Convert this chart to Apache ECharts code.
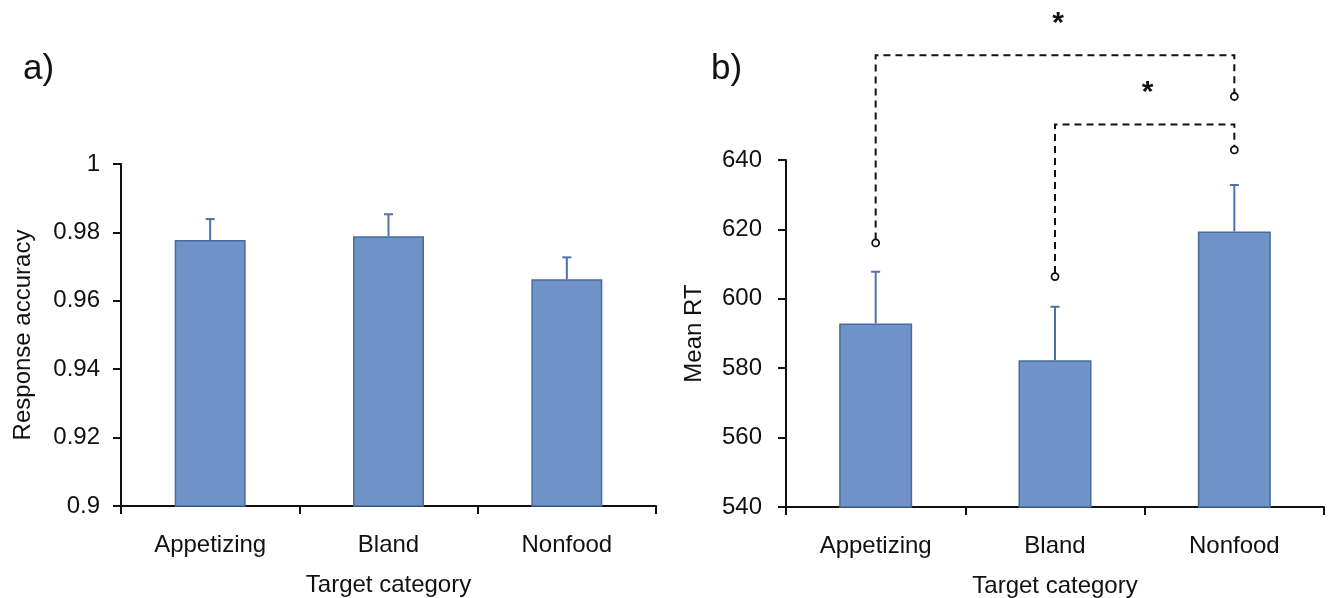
<!DOCTYPE html>
<html>
<head>
<meta charset="utf-8">
<script src="https://cdn.jsdelivr.net/npm/echarts@6/dist/echarts.min.js"></script>
<style>html,body{margin:0;padding:0;background:#fff}#c{width:1330px;height:598px}</style>
</head>
<body>
<div id="c"></div>
<script>
const categories = ['Appetizing', 'Bland', 'Nonfood'];
const accuracyMean = [0.9778, 0.9789, 0.9663];
const accuracyErr = [0.0061, 0.0064, 0.0064];
const rtMean = [592.9, 582.3, 619.4];
const rtErr = [14.9, 15.4, 13.4];
const accTicks = { min: 0.9, max: 1, interval: 0.02 };
const rtTicks = { min: 540, max: 640, interval: 20 };
// significance brackets: from category, to category, bracket height, end heights, star height
const sigFrom = [0, 1];
const sigTo = [2, 2];
const sigLine = [670.2, 650.2];
const sigFromEnd = [616.1, 606.4];
const sigToEnd = [658.3, 642.9];
const sigStar = [680.5, 660.5];
const sigText = ['*', '*'];

const FONT = 'Liberation Sans, Arial, sans-serif';
const barFill = '#7093c7';
const barEdge = '#4a6b9d';
const errColor = '#4f72a6';

function errorSeries(xi, yi, means, errs) {
  return {
    type: 'custom', xAxisIndex: xi, yAxisIndex: yi, clip: false, silent: true, z: 3,
    data: means.map((m, i) => [i, m, m + errs[i]]),
    renderItem: function (params, api) {
      const p0 = api.coord([api.value(0), api.value(1)]);
      const p1 = api.coord([api.value(0), api.value(2)]);
      const st = { stroke: errColor, lineWidth: 2 };
      return { type: 'group', children: [
        { type: 'line', shape: { x1: p0[0], y1: p0[1], x2: p1[0], y2: p1[1] }, style: st },
        { type: 'line', shape: { x1: p1[0] - 4.5, y1: p1[1], x2: p1[0] + 4.5, y2: p1[1] }, style: st }
      ]};
    }
  };
}

function baseX(gi) {
  return {
    type: 'category', gridIndex: gi, data: categories,
    name: 'Target category', nameLocation: 'middle', nameGap: 67,
    nameTextStyle: { fontFamily: FONT, fontSize: 24, color: '#111' },
    axisLine: { lineStyle: { color: '#111', width: 2 } },
    axisTick: { show: true, length: 8, lineStyle: { color: '#111', width: 2 } },
    axisLabel: { fontFamily: FONT, fontSize: 24, color: '#111', margin: 27 },
    splitLine: { show: false }
  };
}
function baseY(gi, t, name, gap, margin) {
  return {
    type: 'value', gridIndex: gi, min: t.min, max: t.max, interval: t.interval,
    name: name, nameLocation: 'middle', nameGap: gap, nameRotate: 90,
    nameTextStyle: { fontFamily: FONT, fontSize: 24, color: '#111' },
    axisLine: { show: true, lineStyle: { color: '#111', width: 2 } },
    axisTick: { show: true, length: 8, lineStyle: { color: '#111', width: 2 } },
    axisLabel: { fontFamily: FONT, fontSize: 24, color: '#111', margin: margin,
      formatter: v => String(parseFloat(v.toFixed(4))) },
    splitLine: { show: false }
  };
}

const chart = echarts.init(document.getElementById('c'), null, { renderer: 'canvas' });
chart.setOption({
  animation: false,
  backgroundColor: '#fff',
  grid: [
    { left: 121, right: 674, top: 164, bottom: 92, outerBoundsMode: 'none', containLabel: false },
    { left: 786, right: 6, top: 160, bottom: 91, outerBoundsMode: 'none', containLabel: false }
  ],
  xAxis: [baseX(0), baseX(1)],
  yAxis: [baseY(0, accTicks, 'Response accuracy', 86, 21), baseY(1, rtTicks, 'Mean RT', 80, 24)],
  graphic: [
    { type: 'text', left: 23, top: 52, style: { text: 'a)', font: '35px ' + FONT, fill: '#111' } },
    { type: 'text', left: 711, top: 52, style: { text: 'b)', font: '35px ' + FONT, fill: '#111' } }
  ],
  series: [
    { type: 'bar', xAxisIndex: 0, yAxisIndex: 0, data: accuracyMean, barWidth: 71,
      itemStyle: { color: barFill, borderColor: barEdge, borderWidth: 1.5 } },
    errorSeries(0, 0, accuracyMean, accuracyErr),
    { type: 'bar', xAxisIndex: 1, yAxisIndex: 1, data: rtMean, barWidth: 73,
      itemStyle: { color: barFill, borderColor: barEdge, borderWidth: 1.5 } },
    errorSeries(1, 1, rtMean, rtErr),
    {
      type: 'custom', xAxisIndex: 1, yAxisIndex: 1, clip: false, silent: true, z: 4,
      data: sigFrom.map((f, i) => [f, sigTo[i], sigLine[i], sigFromEnd[i], sigToEnd[i], sigStar[i]]),
      renderItem: function (params, api) {
        const a = api.value(0), b = api.value(1);
        const top = api.coord([a, api.value(2)]);
        const topB = api.coord([b, api.value(2)]);
        const endA = api.coord([a, api.value(3)]);
        const endB = api.coord([b, api.value(4)]);
        const starY = api.coord([a, api.value(5)])[1];
        const starX = (top[0] + topB[0]) / 2;
        const r = 3.5;
        const ls = { stroke: '#111', lineWidth: 2, lineDash: [7, 5] };
        const cs = { stroke: '#111', lineWidth: 1.8, fill: '#fff' };
        return { type: 'group', children: [
          { type: 'polyline', shape: { points: [[endA[0], endA[1] - r], [top[0], top[1]], [topB[0], topB[1]], [endB[0], endB[1] - r]] }, style: Object.assign({ fill: null }, ls) },
          { type: 'circle', shape: { cx: endA[0], cy: endA[1], r: r }, style: cs },
          { type: 'circle', shape: { cx: endB[0], cy: endB[1], r: r }, style: cs },
          { type: 'text', x: starX + 3, y: starY + 4, style: { text: sigText[params.dataIndex], font: 'bold 30px ' + FONT, fill: '#111', align: 'center', verticalAlign: 'middle' } }
        ]};
      }
    }
  ]
});
</script>
</body>
</html>
